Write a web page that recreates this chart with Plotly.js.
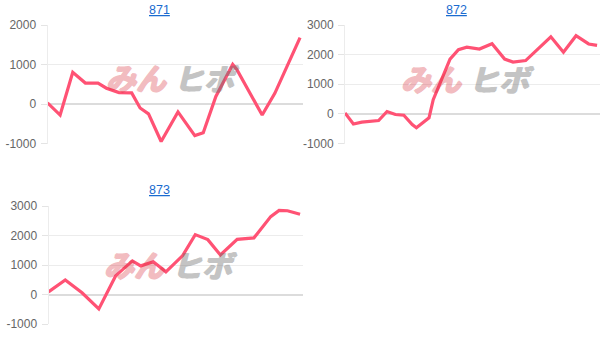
<!DOCTYPE html>
<html><head><meta charset="utf-8">
<script src="https://cdn.plot.ly/plotly-3.0.1.min.js"></script>
<style>html,body{margin:0;padding:0;background:#fff}#c{width:616px;height:346px}</style>
</head><body><div id="c"></div>
<script>
// Chart titles
const titles = ["871", "872", "873"];
// Series 871 (day index, value)
const days871 = [0, 3, 6, 9, 12, 14, 17, 20, 22, 24, 27, 31, 35, 37, 40, 44, 45, 51, 54, 60];
const vals871 = [30, -280, 800, 530, 530, 400, 290, 280, -100, -250, -950, -200, -800, -730, 190, 1000, 870, -280, 270, 1680];
// Series 872
const days872 = [0, 2, 4, 6, 8, 10, 12, 14, 16, 17, 20, 21, 25, 27, 29, 32, 35, 38, 40, 43, 45, 49, 52, 55, 58, 60];
const vals872 = [30, -340, -280, -250, -225, 80, -20, -45, -360, -470, -135, 480, 1850, 2170, 2250, 2190, 2370, 1850, 1750, 1800, 2060, 2600, 2080, 2640, 2360, 2310];
// Series 873
const days873 = [0, 4, 8, 12, 16, 20, 22, 25, 28, 32, 35, 38, 41, 45, 49, 53, 55, 57, 60];
const vals873 = [90, 490, 60, -490, 630, 1140, 970, 1110, 770, 1320, 2030, 1860, 1340, 1870, 1920, 2640, 2850, 2840, 2720];
// Tick values
const ticks871 = [-1000, 0, 1000, 2000];
const ticks87x = [-1000, 0, 1000, 2000, 3000];

const W = 616, H = 346;
const lineColor = "#ff5274";
const fx = p => p / W, fy = p => 1 - p / H;

function tr(x, y, n) {
  return {x: x, y: y, type: "scatter", mode: "lines", xaxis: "x" + n, yaxis: "y" + n,
    line: {color: lineColor, width: 3.2}, hoverinfo: "skip", showlegend: false};
}
function xa(l, r, n) {
  return {domain: [fx(l), fx(r)], range: [0, 60.7], showgrid: false, zeroline: false,
    showticklabels: false, ticks: "", showline: false, anchor: "y" + n, fixedrange: true};
}
function ya(t, b, rng, tv, n) {
  return {domain: [fy(b), fy(t)], range: rng, tickvals: tv, ticktext: tv.map(String),
    showgrid: true, gridcolor: "#ececec", gridwidth: 1, zeroline: true, zerolinecolor: "#dcdcdc",
    zerolinewidth: 2, showline: true, linecolor: "#ececec", linewidth: 1,
    ticks: "outside", ticklen: 6, tickcolor: "#e4e4e4", ticklabelstandoff: 2,
    tickfont: {family: "Liberation Sans, Arial, sans-serif", size: 12, color: "#666"},
    anchor: "x" + n, fixedrange: true};
}
const tfont = {family: "Liberation Sans, Arial, sans-serif", size: 12.5, color: "#1a6bd0"};
function ttl(text, x, y) {
  return {text: "<u>" + text + "</u>", x: fx(x), y: fy(y), xref: "paper", yref: "paper",
    showarrow: false, font: tfont, xanchor: "center", yanchor: "middle"};
}
function wm(x, y) {
  return [
    {text: "<b><i>みん</i></b>", x: fx(x), y: fy(y), xref: "paper", yref: "paper", showarrow: false,
     xanchor: "left", yanchor: "middle", opacity: 0.32,
     font: {family: "Noto Sans CJK JP", size: 30, color: "#d9323e",
            shadow: "1px 0 0 #d9323e, -1px 0 0 #d9323e, 0 1px 0 #d9323e, 0 -1px 0 #d9323e"}},
    {text: "<b><i>ヒボ</i></b>", x: fx(x + 68), y: fy(y), xref: "paper", yref: "paper", showarrow: false,
     xanchor: "left", yanchor: "middle", opacity: 0.4,
     font: {family: "Noto Sans CJK JP", size: 30, color: "#6e6e6e",
            shadow: "1px 0 0 #6e6e6e, -1px 0 0 #6e6e6e, 0 1px 0 #6e6e6e"}}
  ];
}

const data = [tr(days871, vals871, ""), tr(days872, vals872, "2"), tr(days873, vals873, "3")];
data[0].xaxis = "x"; data[0].yaxis = "y";
const layout = {
  width: W, height: H, margin: {l: 0, r: 0, t: 0, b: 0},
  paper_bgcolor: "#fff", plot_bgcolor: "rgba(0,0,0,0)",
  xaxis: Object.assign(xa(47.5, 303, ""), {anchor: "y"}),
  yaxis: Object.assign(ya(25, 143.5, [-1000, 2000], ticks871, ""), {anchor: "x"}),
  xaxis2: xa(345, 600, "2"),
  yaxis2: ya(25, 143.5, [-1000, 3000], ticks87x, "2"),
  xaxis3: xa(48.5, 303, "3"),
  yaxis3: ya(206, 324, [-1000, 3000], ticks87x, "3"),
  annotations: [ttl(titles[0], 160, 10), ttl(titles[1], 456, 10), ttl(titles[2], 160, 190)]
    .concat(wm(104, 77), wm(399, 78), wm(102, 264)),
  showlegend: false
};
Plotly.newPlot("c", data, layout, {staticPlot: true, displayModeBar: false});
</script></body></html>
